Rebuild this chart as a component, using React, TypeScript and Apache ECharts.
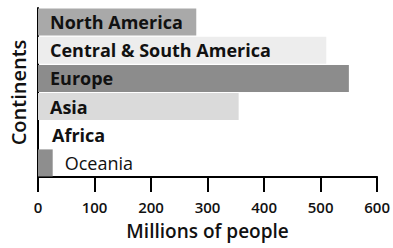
import React, { useEffect, useRef } from "react";
import * as echarts from "echarts";

const continents = ["North America", "Central & South America", "Europe", "Asia", "Africa", "Oceania"];
const population = [280, 510, 550, 355, 0, 26];
const barColors = ["#a9a9a9", "#ededed", "#8c8c8c", "#dadada", "#ffffff", "#8e8e8e"];
const xTicks = [0, 100, 200, 300, 400, 500, 600];

export default function App() {
  const ref = useRef<HTMLDivElement>(null);
  useEffect(() => {
    if (!ref.current) return;
    const chart = echarts.init(ref.current, null, { renderer: "svg" });
    const font = "'Open Sans', 'DejaVu Sans', sans-serif";
    chart.setOption({
      animation: false,
      grid: { left: 37, right: 12, top: 8, bottom: 71, containLabel: false },
      xAxis: {
        type: "value",
        min: xTicks[0],
        max: xTicks[xTicks.length - 1],
        interval: 100,
        name: "Millions of people",
        nameLocation: "middle",
        nameGap: 44,
        nameTextStyle: { fontFamily: font, fontSize: 19, fontWeight: 600, color: "#111" },
        axisLine: { show: true, lineStyle: { color: "#000", width: 2 } },
        axisTick: { show: true, length: 15, lineStyle: { color: "#000", width: 2 } },
        axisLabel: { fontFamily: font, fontSize: 15, fontWeight: 600, color: "#111", margin: 22 },
        splitLine: { show: false },
      },
      yAxis: {
        type: "category",
        data: continents,
        inverse: true,
        name: "Continents",
        nameLocation: "middle",
        nameGap: 10,
        nameRotate: 90,
        nameTextStyle: { fontFamily: font, fontSize: 20, fontWeight: 600, color: "#111" },
        axisLine: { show: true, lineStyle: { color: "#000", width: 2 } },
        axisTick: { show: false },
        axisLabel: { show: false },
      },
      series: [
        {
          type: "bar",
          barCategoryGap: "4%",
          data: population.map((v, i) => {
            const short = v < 60;
            return {
              value: v,
              itemStyle: { color: barColors[i] },
              label: short
                ? { position: "right", distance: i === 5 ? 12 : 14, fontWeight: i === 5 ? 500 : "bold" }
                : { position: "insideLeft", distance: 12 },
            };
          }),
          label: {
            show: true,
            formatter: (p: any) => continents[p.dataIndex],
            fontFamily: font,
            fontSize: 18,
            fontWeight: "bold",
            color: "#111",
          },
        },
      ],
    });
    return () => chart.dispose();
  }, []);
  return <div ref={ref} style={{ width: 393, height: 248, position: "absolute", left: 0, top: 0, background: "#fff" }} />;
}
